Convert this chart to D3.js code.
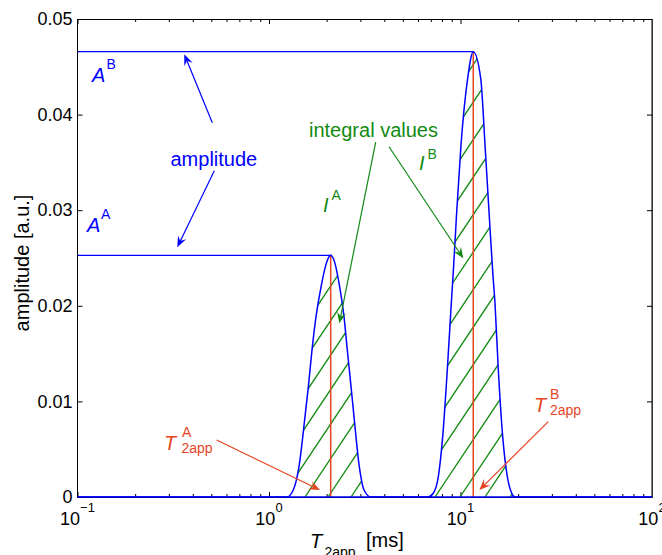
<!DOCTYPE html>
<html><head><meta charset="utf-8">
<script src="https://cdn.jsdelivr.net/npm/d3@7/dist/d3.min.js"></script>
<style>
html,body{margin:0;padding:0;background:#fff;}
svg{display:block;font-family:"Liberation Sans",Arial,Helvetica,sans-serif;}
</style>
</head><body>
<svg id="c" width="662" height="555"></svg>
<script>
// ---------------- data ----------------
const peakA_T   = [1.241,1.339,1.434,1.542,1.612,1.677,1.760,1.885,1.992,2.045,2.100,2.155,2.211,2.321,2.464,2.564,2.671,2.779,2.962,3.134,3.409];
const peakA_amp = [0,0.00073,0.00317,0.00840,0.01189,0.01538,0.01886,0.02235,0.02444,0.02505,0.02528,0.02505,0.02444,0.02235,0.01886,0.01538,0.01189,0.00840,0.00317,0.00073,0];
const peakB_T   = [6.766,7.211,7.659,8.072,8.532,8.953,9.171,9.554,10.06,10.90,11.66,12.75,13.43,14.09,14.73,15.14,15.76,16.61,17.56,18.51,19.26];
const peakB_amp = [0,0.00039,0.00212,0.00631,0.01328,0.02026,0.02357,0.02984,0.03682,0.04380,0.04658,0.04380,0.03682,0.02984,0.02357,0.02026,0.01328,0.00631,0.00212,0.00039,0];

const xDomain = [0.1, 100];
const yDomain = [0, 0.05];
const xTickValues = [0.1, 1, 10, 100];
const xTickExponents = ["\u22121", "0", "1", "2"];
const yTickValues = [0, 0.01, 0.02, 0.03, 0.04, 0.05];
const yTickLabels = ["0", "0.01", "0.02", "0.03", "0.04", "0.05"];

// annotation arrows, in data units [T (ms), amplitude]
const arrowFrom = [[0.5058,0.03915],[0.5181,0.03413],[3.607,0.03713],[4.233,0.03664],[0.5331,0.00596],[28.74,0.00788]];
const arrowTo   = [[0.3611,0.04631],[0.3320,0.02612],[2.329,0.01817],[10.34,0.02497],[1.846,0.00073],[12.54,0.00073]];
const arrowKind = ["blue","blue","green","green","red","red"];

// ---------------- style / layout ----------------
const C = {blue:"#0000ff", green:"#128a12", red:"#e4441f", black:"#000"};
const L = 77.5, R = 652, T = 19, B = 497;

const svg = d3.select("#c");
const x = d3.scaleLog().domain(xDomain).range([L, R]);
const y = d3.scaleLinear().domain(yDomain).range([B, T]);

// ---------------- axes ----------------
function minorTicks(){
  const out = [];
  for (let e = -1; e < 2; e++) for (let m = 2; m <= 9; m++) out.push(m * Math.pow(10, e));
  return out;
}
const gAx = svg.append("g");
function styleAxis(g){ g.select(".domain").remove(); g.selectAll("line").attr("stroke", C.black).attr("stroke-width", 1); }

gAx.append("g").attr("transform", `translate(0,${B})`)
  .call(d3.axisBottom(x).tickValues(xTickValues).tickSizeInner(-5).tickSizeOuter(0).tickFormat(""))
  .call(styleAxis);
gAx.append("g").attr("transform", `translate(0,${B})`)
  .call(d3.axisBottom(x).tickValues(minorTicks()).tickSizeInner(-3).tickSizeOuter(0).tickFormat(""))
  .call(styleAxis);
gAx.append("g").attr("transform", `translate(0,${T})`)
  .call(d3.axisTop(x).tickValues(xTickValues).tickSizeInner(-5).tickSizeOuter(0).tickFormat(""))
  .call(styleAxis);
gAx.append("g").attr("transform", `translate(0,${T})`)
  .call(d3.axisTop(x).tickValues(minorTicks()).tickSizeInner(-3).tickSizeOuter(0).tickFormat(""))
  .call(styleAxis);
const yAx = gAx.append("g").attr("transform", `translate(${L},0)`)
  .call(d3.axisLeft(y).tickValues(yTickValues).tickSizeInner(-5).tickSizeOuter(0).tickPadding(5)
        .tickFormat((d,i) => yTickLabels[i]))
  .call(styleAxis);
yAx.selectAll("text").attr("font-size", 18).attr("fill", C.black).attr("font-family", null);
gAx.append("g").attr("transform", `translate(${R},0)`)
  .call(d3.axisRight(y).tickValues(yTickValues).tickSizeInner(-5).tickSizeOuter(0).tickFormat(""))
  .call(styleAxis);

// x tick labels 10^n
const xl = svg.append("g");
xTickValues.forEach((v, i) => {
  const t = xl.append("text").attr("x", x(v)).attr("y", 525).attr("text-anchor", "middle")
    .attr("font-size", 18).attr("fill", C.black);
  t.append("tspan").text("10");
  t.append("tspan").attr("font-size", 13).attr("dy", -13).text(xTickExponents[i]);
});

// ---------------- spectrum ----------------
const specT = [xDomain[0]].concat(peakA_T, peakB_T, [xDomain[1]]);
const specA = [0].concat(peakA_amp, peakB_amp, [0]);
const specData = specT.map((t, i) => [t, specA[i]]);

const line = d3.line().x(d => x(d[0])).y(d => y(d[1])).curve(d3.curveMonotoneX);
const area = d3.area().x(d => x(d[0])).y0(y(0)).y1(d => y(d[1])).curve(d3.curveMonotoneX);

const peaks = [
  {T: peakA_T, A: peakA_amp, phase: 305, step: 23},
  {T: peakB_T, A: peakB_amp, phase: 460, step: 25}
];
const defs = svg.append("defs");
const hatchSlope = 1.5;
peaks.forEach((p, k) => {
  const data = p.T.map((t, i) => [t, p.A[i]]);
  defs.append("clipPath").attr("id", "clip" + k).append("path").attr("d", area(data));
  const gh = svg.append("g").attr("clip-path", `url(#clip${k})`);
  const x0 = x(p.T[0]), x1 = x(p.T[p.T.length - 1]);
  const H = B - T;
  const start = p.phase - Math.ceil((p.phase - (x0 - H / hatchSlope)) / p.step) * p.step;
  for (let xs = start; xs <= x1; xs += p.step) {
    gh.append("line").attr("x1", xs).attr("y1", B).attr("x2", xs + H / hatchSlope).attr("y2", B - H)
      .attr("stroke", C.green).attr("stroke-width", 1.3);
  }
  const im = d3.maxIndex(p.A);
  svg.append("line").attr("x1", x(p.T[im])).attr("x2", x(p.T[im])).attr("y1", y(0)).attr("y2", y(p.A[im]))
    .attr("stroke", C.red).attr("stroke-width", 1.5);
  svg.append("line").attr("x1", x(xDomain[0])).attr("x2", x(p.T[im])).attr("y1", y(p.A[im])).attr("y2", y(p.A[im]))
    .attr("stroke", C.blue).attr("stroke-width", 1.3);
});

svg.append("path").attr("d", line(specData)).attr("fill", "none")
  .attr("stroke", C.blue).attr("stroke-width", 1.5);

// box
svg.append("rect").attr("x", L).attr("y", T + 0.5).attr("width", R - L).attr("height", B - T)
  .attr("fill", "none").attr("stroke", C.black).attr("stroke-width", 1);
svg.append("line").attr("x1", R + 0.5).attr("x2", R + 0.5).attr("y1", T).attr("y2", B + 1)
  .attr("stroke", "#333").attr("stroke-width", 1);
svg.append("line").attr("x1", L).attr("x2", R).attr("y1", y(0)).attr("y2", y(0))
  .attr("stroke", C.blue).attr("stroke-width", 1.5);

// ---------------- arrows ----------------
function arrow(from, to, color){
  const ax = x(from[0]), ay = y(from[1]), bx = x(to[0]), by = y(to[1]);
  const ang = Math.atan2(by - ay, bx - ax);
  const Lh = 11, W = 4.5, notch = 7;
  const c = Math.cos(ang), s = Math.sin(ang);
  const P = (u, v) => [bx + u * c - v * s, by + u * s + v * c];
  const nb = P(-notch, 0);
  svg.append("line").attr("x1", ax).attr("y1", ay).attr("x2", nb[0]).attr("y2", nb[1])
    .attr("stroke", color).attr("stroke-width", 1.2);
  const pts = [P(0,0), P(-Lh, W), nb, P(-Lh, -W)];
  svg.append("path").attr("d", "M" + pts.map(p => p.join(",")).join("L") + "Z").attr("fill", color);
}
arrowFrom.forEach((f, i) => arrow(f, arrowTo[i], C[arrowKind[i]]));

// ---------------- texts ----------------
function txt(xp, yp, s, color, size, italic){
  return svg.append("text").attr("x", xp).attr("y", yp).attr("fill", color).attr("font-size", size)
    .attr("font-style", italic ? "italic" : "normal").text(s);
}
txt(92, 81.5, "A", C.blue, 20, true);  txt(106.5, 68.5, "B", C.blue, 14, false);
txt(87, 231.5, "A", C.blue, 20, true); txt(101, 218.5, "A", C.blue, 14, false);
txt(170.5, 166, "amplitude", C.blue, 20, false);
txt(309, 136.5, "integral values", C.green, 20, false);
txt(323, 211.5, "I", C.green, 20, true); txt(331.5, 200, "A", C.green, 14, false);
txt(419, 170, "I", C.green, 20, true);  txt(427.5, 158.5, "B", C.green, 14, false);
txt(164, 450, "T", C.red, 20, true); txt(182, 436.5, "A", C.red, 14, false); txt(181.5, 453, "2app", C.red, 14, false);
txt(534, 411.5, "T", C.red, 20, true); txt(550, 398.5, "B", C.red, 14, false); txt(550, 415, "2app", C.red, 14, false);

// axis labels
txt(310, 548, "T", C.black, 20, true);
txt(324.5, 557, "2app", C.black, 14, false);
txt(366, 547, "[ms]", C.black, 20, false);
svg.append("text").attr("transform", "translate(29,263) rotate(-90)").attr("text-anchor", "middle")
  .attr("font-size", 20).attr("fill", C.black).text("amplitude [a.u.]");
</script>
</body></html>
